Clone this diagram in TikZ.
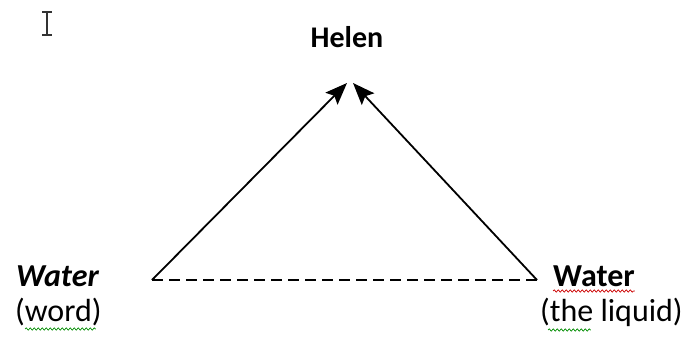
\documentclass[tikz,border=0pt]{standalone}
\usepackage{fontspec}
\setmainfont{Carlito}
\usepackage{tikz}
\usetikzlibrary{arrows.meta, positioning, decorations.pathmorphing}

\begin{document}
\begin{tikzpicture}[
    x=1pt, y=-1pt,
    txt/.style={inner sep=0pt, anchor=base west, font=\fontsize{32}{36}\selectfont},
    arrow/.style={-{Stealth[length=22pt, width=17pt, inset=4pt]}, line width=1.8pt},
    link/.style={line width=1.8pt, dash pattern=on 11pt off 6pt},
    squiggle/.style={line width=0.7pt, decorate, decoration={snake, amplitude=1.1pt, segment length=4pt}}
]
    \useasboundingbox (0,0) rectangle (689,339);

    \node[txt, anchor=base, font=\fontsize{30}{34}\selectfont\bfseries] (helen) at (347,48) {Helen};
    \node[txt, font=\fontsize{32}{36}\selectfont\bfseries\itshape] (wword) at (16,287) {Water};
    \node[txt] (word) at (15,322) {(word)};
    \node[txt, font=\fontsize{32}{36}\selectfont\bfseries] (wliq) at (553,287) {Water};
    \node[txt] (liq) at (540,322) {(the liquid)};

    \coordinate (lc) at (152,280);
    \coordinate (rc) at (537,280);
    \coordinate (ltip) at (347,83);
    \coordinate (rtip) at (353,83);

    \draw[arrow] (lc) -- (ltip);
    \draw[arrow] (rc) -- (rtip);
    \draw[link] (lc) -- (rc);

    % spell check marks
    \draw[squiggle, green!55!black] ([xshift=10pt, yshift=-7pt]word.base west) -- ([xshift=-6pt, yshift=-7pt]word.base east);
    \draw[squiggle, green!55!black] ([xshift=8pt, yshift=-8pt]liq.base west) -- ([xshift=-92pt, yshift=-8pt]liq.base east);
    \draw[squiggle, red!80!black] ([yshift=-4pt]wliq.base west) -- ([yshift=-4pt]wliq.base east);

    % cursor
    \draw[line width=1.2pt, black!80] (47,12) -- (47,35) (42,12) -- (52,12) (42,35) -- (52,35);
\end{tikzpicture}
\end{document}
